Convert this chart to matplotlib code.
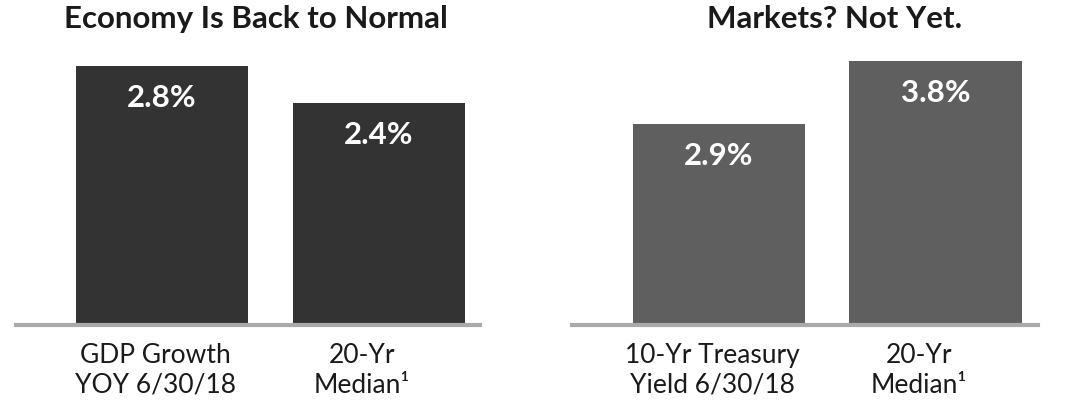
import matplotlib.pyplot as plt
import matplotlib.transforms as mtransforms

plt.rcParams['font.family'] = ['Lato', 'DejaVu Sans']

left_title = 'Economy Is Back to Normal'
left_labels = ['GDP Growth\nYOY 6/30/18', '20-Yr\nMedian¹']
left_values = [2.8, 2.4]

right_title = 'Markets? Not Yet.'
right_labels = ['10-Yr Treasury\nYield 6/30/18', '20-Yr\nMedian¹']
right_values = [2.9, 3.8]

W, H = 1078, 409
fig = plt.figure(figsize=(W / 100, H / 100), dpi=100)


def panel(x0, x1, xlim, ylim_top, values, labels, title, color, title_x):
    # axes box in pixel coords (top-left origin for y)
    base_y = 325
    top_y = 40
    ax = fig.add_axes([x0 / W, (H - base_y) / H, (x1 - x0) / W, (base_y - top_y) / H])
    xs = range(len(values))
    ax.bar(xs, values, width=0.795, color=color, zorder=2)
    ax.set_xlim(*xlim)
    ax.set_ylim(0, ylim_top)
    ax.axhline(0, color='#aaaaaa', lw=3.0, zorder=3, clip_on=False)
    for s in ax.spines.values():
        s.set_visible(False)
    ax.set_xticks([])
    ax.set_yticks([])

    down = mtransforms.ScaledTranslation(0, -32 / 100, fig.dpi_scale_trans)
    for x, v in zip(xs, values):
        ax.text(x, v, f'{v:.1f}%', transform=ax.transData + down,
                ha='center', va='center', color='white',
                fontsize=22.5, fontweight='bold')

    for x, lab, dx in zip(xs, labels, [-7, -17]):
        off = mtransforms.ScaledTranslation(dx / 100, -18 / 100, fig.dpi_scale_trans)
        ax.text(x, 0, lab, transform=ax.get_xaxis_transform() + off,
                ha='center', va='top', ma='center', color='#1a1a1a',
                fontsize=19, linespacing=1.25)

    fig.text(title_x / W, 1 - 19 / H, title, ha='center', va='center',
             fontsize=22.5, fontweight='bold', color='#1a1a1a')
    return ax


panel(16, 480, (-0.673, 1.465), (325 - 40) / 92.5, left_values, left_labels,
      left_title, '#333333', 256)
panel(572, 1038, (-0.679, 1.473), (325 - 40) / 69.4, right_values, right_labels,
      right_title, '#5f5f5f', 835)

fig.savefig('out.png', dpi=100)
